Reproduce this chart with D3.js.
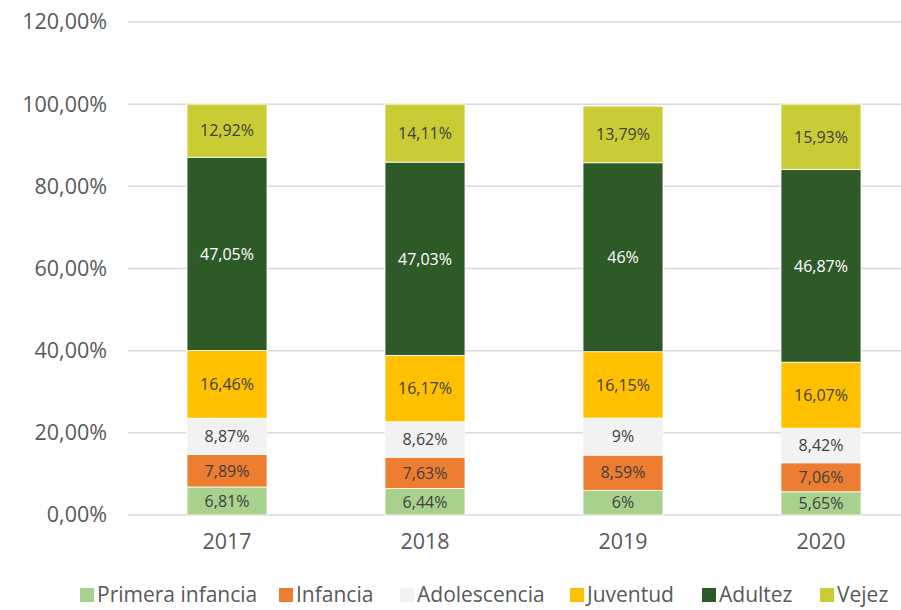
<!DOCTYPE html>
<html>
<head>
<meta charset="utf-8">
<script src="https://cdn.jsdelivr.net/npm/d3@7"></script>
<style>
  html, body { margin: 0; padding: 0; background: #fff; }
  .chart text { font-family: 'Open Sans', sans-serif; }
</style>
</head>
<body>
<div class="chart"></div>
<script>
const years = ['2017', '2018', '2019', '2020']
const groups = ['Primera infancia', 'Infancia', 'Adolescencia', 'Juventud', 'Adultez', 'Vejez']
const primeraInfancia = [6.81, 6.44, 6, 5.65]
const infancia = [7.89, 7.63, 8.59, 7.06]
const adolescencia = [8.87, 8.62, 9, 8.42]
const juventud = [16.46, 16.17, 16.15, 16.07]
const adultez = [47.05, 47.03, 46, 46.87]
const vejez = [12.92, 14.11, 13.79, 15.93]
const yTicks = [0, 20, 40, 60, 80, 100, 120]

const seriesValues = [primeraInfancia, infancia, adolescencia, juventud, adultez, vejez]
const colors = ['#a9d18e', '#ed7d31', '#f2f2f2', '#ffc000', '#2e5a28', '#c9cc34']
const labelColors = ['#404040', '#404040', '#404040', '#404040', '#ffffff', '#404040']

const width = 901
const height = 610
const margin = { top: 22, right: -19, bottom: 95, left: 128 }

const table = years.map((yr, i) => {
  const row = { year: yr }
  groups.forEach((g, k) => { row[g] = seriesValues[k][i] })
  return row
})

const stack = d3.stack().keys(groups)(table)

const x = d3.scaleBand()
  .domain(years)
  .range([margin.left, width - margin.right])
  .paddingInner(0.596)
  .paddingOuter(0.298)

const y = d3.scaleLinear()
  .domain([0, 120])
  .range([height - margin.bottom, margin.top])

const fmt = v => String(v).replace('.', ',') + '%'

const svg = d3.select('.chart').append('svg')
  .attr('width', width)
  .attr('height', height)

// gridlines
svg.append('g')
  .selectAll('line')
  .data(yTicks)
  .enter().append('line')
  .attr('x1', margin.left)
  .attr('x2', width)
  .attr('y1', d => y(d))
  .attr('y2', d => y(d))
  .attr('stroke', '#d9d9d9')
  .attr('stroke-width', 1.5)

// y axis labels
const yAxis = svg.append('g')
  .attr('transform', `translate(${margin.left - 21},0)`)
  .call(d3.axisLeft(y).tickValues(yTicks).tickSize(0).tickPadding(0)
    .tickFormat(d => d3.format('.2f')(d).replace('.', ',') + '%'))
yAxis.select('.domain').remove()
yAxis.selectAll('text')
  .attr('fill', '#595959')
  .style('font-size', '21.5px')
  .style('font-family', "'Open Sans', sans-serif")

// x axis labels
const xAxis = svg.append('g')
  .attr('transform', `translate(0,${y(0)})`)
  .call(d3.axisBottom(x).tickSize(0).tickPadding(19))
xAxis.select('.domain').remove()
xAxis.selectAll('text')
  .attr('fill', '#595959')
  .style('font-size', '21.5px')
  .style('font-family', "'Open Sans', sans-serif")

// bars
const layers = svg.append('g')
  .selectAll('g')
  .data(stack)
  .enter().append('g')
  .attr('fill', (d, i) => colors[i])

layers.selectAll('rect')
  .data(d => d)
  .enter().append('rect')
  .attr('x', d => x(d.data.year))
  .attr('width', x.bandwidth())
  .attr('y', d => y(d[1]))
  .attr('height', d => y(d[0]) - y(d[1]))
  .attr('stroke', '#ffffff')
  .attr('stroke-width', 0.8)

// data labels
stack.forEach((layer, k) => {
  svg.append('g')
    .selectAll('text')
    .data(layer)
    .enter().append('text')
    .attr('x', d => x(d.data.year) + x.bandwidth() / 2)
    .attr('y', d => y((d[0] + d[1]) / 2))
    .attr('dy', '0.36em')
    .attr('text-anchor', 'middle')
    .attr('fill', labelColors[k])
    .style('font-size', '16px')
    .text(d => fmt(d.data[layer.key]))
})

// legend
const legendX = [80, 279, 400, 570, 702, 820]
const legend = svg.append('g')
  .selectAll('g')
  .data(groups)
  .enter().append('g')
  .attr('transform', (d, i) => `translate(${legendX[i]},${height - 9})`)

legend.append('rect')
  .attr('x', 0)
  .attr('y', -13)
  .attr('width', 14)
  .attr('height', 14)
  .attr('fill', (d, i) => colors[i])

legend.append('text')
  .attr('x', 17)
  .attr('y', 0)
  .attr('dy', '0.05em')
  .attr('fill', '#595959')
  .style('font-size', '21px')
  .text(d => d)
</script>
</body>
</html>
